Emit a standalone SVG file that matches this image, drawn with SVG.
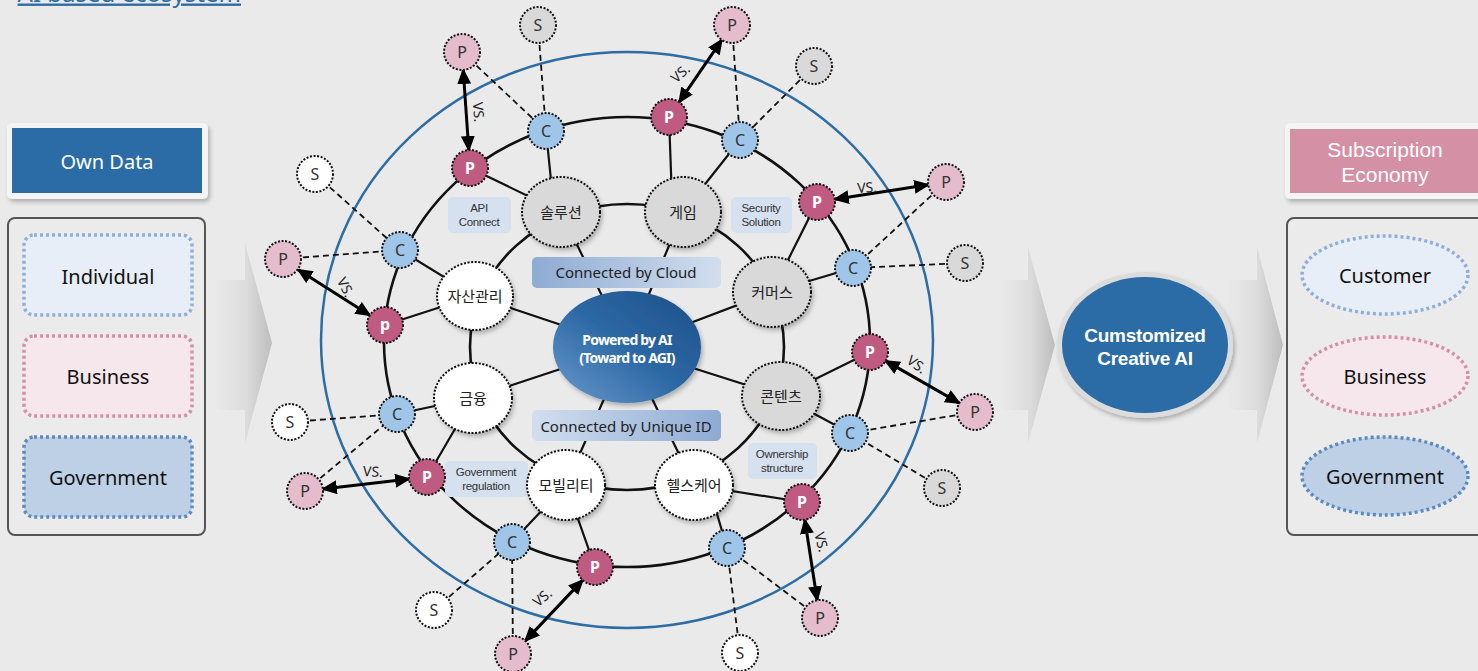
<svg xmlns="http://www.w3.org/2000/svg" width="1478" height="671" viewBox="0 0 1478 671">
<style>
text{font-family:"Noto Sans","Noto Sans CJK KR",sans-serif;text-anchor:middle;dominant-baseline:central}
.nd{stroke:#111;stroke-width:2;stroke-dasharray:2 1.6}
.pd{fill:#bf5a80}.pl{fill:#e4bccb}.cc{fill:#9fc5e8}.sg{fill:#d9d9d9}.sw{fill:#fff}
.t16{font-size:16px;fill:#333}
.tw{font-size:16px;fill:#fff;font-weight:bold}
.cat{font-size:15px;fill:#222}
.ring{fill:none;stroke:#111;stroke-width:2.6}
.ln{stroke:#111;stroke-width:2.2}
.dash{stroke:#111;stroke-width:1.8;stroke-dasharray:6 4}
.arr{stroke:#000;stroke-width:3;marker-start:url(#ah);marker-end:url(#ah)}
.vs{font-size:14px;fill:#222}
.tag{fill:#d5e1ef}
text.tagt{font-family:"Liberation Sans",sans-serif;font-size:11.5px;fill:#333;letter-spacing:-0.3px}
text.lib{font-family:"Liberation Sans",sans-serif}
.lbl{font-size:20px;fill:#111}
</style>
<defs>
<marker id="ah" markerUnits="userSpaceOnUse" markerWidth="16" markerHeight="14" viewBox="0 0 16 14" refX="14" refY="7" orient="auto-start-reverse"><path d="M0,0 L16,7 L0,14 z" fill="#000"/></marker>
<linearGradient id="chev" x1="0" y1="0" x2="1" y2="0"><stop offset="0" stop-color="#eaeaea"/><stop offset="0.55" stop-color="#dcdcdc"/><stop offset="1" stop-color="#bdbdbd"/></linearGradient>
<linearGradient id="core" x1="0" y1="1" x2="1" y2="0"><stop offset="0" stop-color="#6a9acb"/><stop offset="0.5" stop-color="#2c68a5"/><stop offset="1" stop-color="#1d4f88"/></linearGradient>
<linearGradient id="cloud" x1="0" y1="0" x2="1" y2="0"><stop offset="0" stop-color="#8eabd3"/><stop offset="1" stop-color="#d2deee"/></linearGradient>
<linearGradient id="uid" x1="0" y1="0" x2="1" y2="0"><stop offset="0" stop-color="#d2deee"/><stop offset="1" stop-color="#8eabd3"/></linearGradient>
<filter id="sh" x="-20%" y="-20%" width="150%" height="150%"><feDropShadow dx="2" dy="3" stdDeviation="2" flood-color="#000" flood-opacity="0.25"/></filter>
</defs>
<rect width="1478" height="671" fill="#eaeaea"/>

<!-- cut-off title link -->
<text x="241" y="1.5" style="text-anchor:end;dominant-baseline:auto;font-size:24px;fill:#2e6da4;text-decoration:underline">AI based ecosystem</text>

<!-- chevrons -->
<g id="chevrons">
<path d="M215,280 L245,280 L245,243 L272,343 L245,443 L245,410 L215,410 Z" fill="url(#chev)"/>
<path d="M1000,280 L1028,280 L1028,247 L1055,345 L1028,443 L1028,410 L1000,410 Z" fill="url(#chev)"/>
<path d="M1227,280 L1257,280 L1257,247 L1283,345 L1257,443 L1257,410 L1227,410 Z" fill="url(#chev)"/>
</g>

<!-- left panel -->
<g id="own-data">
<rect x="7" y="123" width="201" height="76" rx="5" fill="#f4f4f4" filter="url(#sh)"/>
<rect x="12" y="128" width="190" height="65" fill="#2b6ca6"/>
<text x="107" y="161" style="font-size:20px;fill:#fff">Own Data</text>
</g>
<g id="left-panel">
<rect x="8" y="218" width="197" height="317" rx="7" fill="#ebebeb" stroke="#555" stroke-width="2"/>
</g>
<g id="l-individual"><rect x="24" y="235" width="168" height="80" rx="10" fill="#e7eef7" stroke="#8eaedb" stroke-width="3.5" stroke-dasharray="3 3"/><text class="lbl" x="108" y="276">Individual</text></g>
<g id="l-business"><rect x="24" y="336" width="168" height="80" rx="10" fill="#f5e7ec" stroke="#d68fa8" stroke-width="3.5" stroke-dasharray="3 3"/><text class="lbl" x="108" y="376">Business</text></g>
<g id="l-government"><rect x="24" y="437" width="168" height="80" rx="10" fill="#bdd0e6" stroke="#5b8bc0" stroke-width="3.5" stroke-dasharray="3 3"/><text class="lbl" x="108" y="477">Government</text></g>

<!-- right side -->
<g id="custom-ai">
<ellipse cx="1145" cy="345" rx="88" ry="73" fill="#dcdcdc" filter="url(#sh)"/>
<ellipse cx="1145" cy="345" rx="83" ry="68" fill="#2b6ca6"/>
<text class="lib" x="1145" y="335" style="font-size:19px;fill:#fff;font-weight:bold;letter-spacing:-0.3px">Cumstomized</text>
<text class="lib" x="1145" y="358" style="font-size:19px;fill:#fff;font-weight:bold;letter-spacing:-0.3px">Creative AI</text>
</g>
<g id="subscription">
<rect x="1285" y="123" width="200" height="76" rx="5" fill="#f4f4f4" filter="url(#sh)"/>
<rect x="1290" y="129" width="190" height="64" fill="#d490a5"/>
<text class="lib" x="1385" y="149" style="font-size:21px;fill:#fff">Subscription</text>
<text class="lib" x="1385" y="174" style="font-size:21px;fill:#fff">Economy</text>
</g>
<g id="right-panel">
<rect x="1287" y="218" width="200" height="317" rx="7" fill="#ebebeb" stroke="#555" stroke-width="2"/>
</g>
<g id="r-customer"><ellipse cx="1385" cy="275" rx="83" ry="39" fill="#e7eef7" stroke="#8eaedb" stroke-width="3.5" stroke-dasharray="3 3"/><text class="lbl" x="1385" y="275">Customer</text></g>
<g id="r-business"><ellipse cx="1385" cy="376" rx="83" ry="39" fill="#f5e7ec" stroke="#d68fa8" stroke-width="3.5" stroke-dasharray="3 3"/><text class="lbl" x="1385" y="376">Business</text></g>
<g id="r-government"><ellipse cx="1385" cy="476" rx="83" ry="39" fill="#bdd0e6" stroke="#5b8bc0" stroke-width="3.5" stroke-dasharray="3 3"/><text class="lbl" x="1385" y="476">Government</text></g>

<!-- big boundary -->
<ellipse id="boundary" cx="627" cy="340" rx="306" ry="288" fill="none" stroke="#2e6da4" stroke-width="2.5"/>

<!-- connectors -->
<g id="connectors">
<ellipse class="ring" cx="627" cy="342" rx="243" ry="225"/>
<ellipse class="ring" cx="627" cy="347" rx="157" ry="143"/>
<!-- spokes -->
<line class="ln" x1="561" y1="212" x2="627" y2="347"/>
<line class="ln" x1="683" y1="212" x2="627" y2="347"/>
<line class="ln" x1="772" y1="292" x2="627" y2="347"/>
<line class="ln" x1="781" y1="396" x2="627" y2="347"/>
<line class="ln" x1="694" y1="485" x2="627" y2="347"/>
<line class="ln" x1="566" y1="485" x2="627" y2="347"/>
<line class="ln" x1="473" y1="398" x2="627" y2="347"/>
<line class="ln" x1="475" y1="296" x2="627" y2="347"/>
<!-- outer to category -->
<line class="ln" x1="470" y1="168" x2="561" y2="212"/>
<line class="ln" x1="546" y1="131" x2="553" y2="200"/>
<line class="ln" x1="669" y1="117" x2="672" y2="200"/>
<line class="ln" x1="740" y1="140" x2="683" y2="212"/>
<line class="ln" x1="817" y1="202" x2="772" y2="292"/>
<line class="ln" x1="853" y1="268" x2="772" y2="292"/>
<line class="ln" x1="870" y1="352" x2="781" y2="396"/>
<line class="ln" x1="850" y1="433" x2="781" y2="396"/>
<line class="ln" x1="802" y1="502" x2="694" y2="485"/>
<line class="ln" x1="727" y1="548" x2="710" y2="490"/>
<line class="ln" x1="595" y1="567" x2="566" y2="485"/>
<line class="ln" x1="512" y1="542" x2="566" y2="485"/>
<line class="ln" x1="427" y1="477" x2="473" y2="398"/>
<line class="ln" x1="397" y1="414" x2="473" y2="398"/>
<line class="ln" x1="385" y1="325" x2="475" y2="296"/>
<line class="ln" x1="400" y1="250" x2="475" y2="296"/>
<!-- dashed -->
<line class="dash" x1="538" y1="25" x2="546" y2="131"/>
<line class="dash" x1="462" y1="52" x2="546" y2="131"/>
<line class="dash" x1="315" y1="174" x2="400" y2="250"/>
<line class="dash" x1="283" y1="259" x2="400" y2="250"/>
<line class="dash" x1="732" y1="25" x2="740" y2="140"/>
<line class="dash" x1="814" y1="66" x2="740" y2="140"/>
<line class="dash" x1="946" y1="182" x2="853" y2="268"/>
<line class="dash" x1="965" y1="263" x2="853" y2="268"/>
<line class="dash" x1="975" y1="412" x2="850" y2="433"/>
<line class="dash" x1="942" y1="488" x2="850" y2="433"/>
<line class="dash" x1="820" y1="618" x2="727" y2="548"/>
<line class="dash" x1="740" y1="653" x2="727" y2="548"/>
<line class="dash" x1="513" y1="654" x2="512" y2="542"/>
<line class="dash" x1="434" y1="610" x2="512" y2="542"/>
<line class="dash" x1="305" y1="491" x2="397" y2="414"/>
<line class="dash" x1="290" y1="422" x2="397" y2="414"/>
<!-- vs arrows -->
<line class="arr" x1="463.2" y1="70" x2="468.8" y2="150"/>
<line class="arr" x1="298.2" y1="269.7" x2="369.8" y2="315.3"/>
<line class="arr" x1="721.8" y1="39.9" x2="679.2" y2="102.1"/>
<line class="arr" x1="834.8" y1="199.2" x2="928.2" y2="184.8"/>
<line class="arr" x1="885.6" y1="360.9" x2="959.4" y2="403.1"/>
<line class="arr" x1="804.8" y1="519.8" x2="817.2" y2="600.2"/>
<line class="arr" x1="582.7" y1="580.1" x2="525.3" y2="640.9"/>
<line class="arr" x1="409.1" y1="479.1" x2="322.9" y2="488.9"/>
<text class="vs" transform="translate(479,112) rotate(86)">VS.</text>
<text class="vs" transform="translate(346,287) rotate(62)">VS.</text>
<text class="vs" transform="translate(680,73) rotate(-42)">VS.</text>
<text class="vs" transform="translate(867,187) rotate(-3)">VS.</text>
<text class="vs" transform="translate(917,364) rotate(36)">VS.</text>
<text class="vs" transform="translate(822,542) rotate(76)">VS.</text>
<text class="vs" transform="translate(542,597) rotate(-40)">VS.</text>
<text class="vs" transform="translate(373,471) rotate(3)">VS.</text>
</g>

<!-- labels -->
<g id="tag-cloud"><rect x="532" y="257" width="189" height="31" rx="5" fill="url(#cloud)"/><text x="626" y="272" style="font-size:15px;fill:#222">Connected by Cloud</text></g>
<g id="tag-uid"><rect x="532" y="410" width="189" height="31" rx="5" fill="url(#uid)"/><text x="626" y="426" style="font-size:15px;fill:#222">Connected by Unique ID</text></g>
<g id="tag-api"><rect class="tag" x="448" y="197" width="63" height="36" rx="5"/><text class="tagt" x="479" y="208">API</text><text class="tagt" x="479" y="222">Connect</text></g>
<g id="tag-security"><rect class="tag" x="731" y="197" width="61" height="36" rx="5"/><text class="tagt" x="761" y="208">Security</text><text class="tagt" x="761" y="222">Solution</text></g>
<g id="tag-gov"><rect class="tag" x="445" y="461" width="83" height="36" rx="5"/><text class="tagt" x="486" y="472">Government</text><text class="tagt" x="486" y="486">regulation</text></g>
<g id="tag-own"><rect class="tag" x="748" y="443" width="69" height="36" rx="5"/><text class="tagt" x="782" y="454">Ownership</text><text class="tagt" x="782" y="468">structure</text></g>

<!-- core -->
<g id="core">
<ellipse cx="627" cy="347" rx="74" ry="56" fill="url(#core)" filter="url(#sh)"/>
<text x="627" y="339" style="font-size:14px;fill:#fff;font-weight:bold;letter-spacing:-0.8px">Powered by AI</text>
<text x="627" y="357" style="font-size:14px;fill:#fff;font-weight:bold;letter-spacing:-0.8px">(Toward to AGI)</text>
</g>

<!-- category nodes -->
<g id="cat-solution"><ellipse class="sg nd" cx="561" cy="212" rx="39" ry="35" filter="url(#sh)"/><text class="cat" x="561" y="212">솔루션</text></g>
<g id="cat-game"><ellipse class="sg nd" cx="683" cy="212" rx="38" ry="35" filter="url(#sh)"/><text class="cat" x="683" y="212">게임</text></g>
<g id="cat-commerce"><ellipse class="sg nd" cx="772" cy="292" rx="39" ry="35" filter="url(#sh)"/><text class="cat" x="772" y="292">커머스</text></g>
<g id="cat-content"><ellipse class="sg nd" cx="781" cy="396" rx="39" ry="34" filter="url(#sh)"/><text class="cat" x="781" y="396">콘텐츠</text></g>
<g id="cat-health"><ellipse class="sw nd" cx="694" cy="485" rx="39" ry="35" filter="url(#sh)"/><text class="cat" x="694" y="485">헬스케어</text></g>
<g id="cat-mobility"><ellipse class="sw nd" cx="566" cy="485" rx="39" ry="35" filter="url(#sh)"/><text class="cat" x="566" y="485">모빌리티</text></g>
<g id="cat-finance"><ellipse class="sw nd" cx="473" cy="398" rx="39" ry="35" filter="url(#sh)"/><text class="cat" x="473" y="398">금융</text></g>
<g id="cat-asset"><ellipse class="sw nd" cx="475" cy="296" rx="38" ry="34" filter="url(#sh)"/><text class="cat" x="475" y="296">자산관리</text></g>

<!-- ring nodes -->
<g id="p1"><circle class="pd nd" cx="470" cy="168" r="18"/><text class="tw" x="470" y="168">P</text></g>
<g id="c1"><circle class="cc nd" cx="546" cy="131" r="18"/><text class="t16" x="546" y="131">C</text></g>
<g id="p2"><circle class="pd nd" cx="669" cy="117" r="18"/><text class="tw" x="669" y="117">P</text></g>
<g id="c2"><circle class="cc nd" cx="740" cy="140" r="18"/><text class="t16" x="740" y="140">C</text></g>
<g id="p3"><circle class="pd nd" cx="817" cy="202" r="18"/><text class="tw" x="817" y="202">P</text></g>
<g id="c3"><circle class="cc nd" cx="853" cy="268" r="18"/><text class="t16" x="853" y="268">C</text></g>
<g id="p4"><circle class="pd nd" cx="870" cy="352" r="18"/><text class="tw" x="870" y="352">P</text></g>
<g id="c4"><circle class="cc nd" cx="850" cy="433" r="18"/><text class="t16" x="850" y="433">C</text></g>
<g id="p5"><circle class="pd nd" cx="802" cy="502" r="18"/><text class="tw" x="802" y="502">P</text></g>
<g id="c5"><circle class="cc nd" cx="727" cy="548" r="18"/><text class="t16" x="727" y="548">C</text></g>
<g id="p6"><circle class="pd nd" cx="595" cy="567" r="18"/><text class="tw" x="595" y="567">P</text></g>
<g id="c6"><circle class="cc nd" cx="512" cy="542" r="18"/><text class="t16" x="512" y="542">C</text></g>
<g id="p7"><circle class="pd nd" cx="427" cy="477" r="18"/><text class="tw" x="427" y="477">P</text></g>
<g id="c7"><circle class="cc nd" cx="397" cy="414" r="18"/><text class="t16" x="397" y="414">C</text></g>
<g id="p8"><circle class="pd nd" cx="385" cy="325" r="18"/><text class="tw" x="385" y="324">p</text></g>
<g id="c8"><circle class="cc nd" cx="400" cy="250" r="18"/><text class="t16" x="400" y="250">C</text></g>

<!-- external nodes -->
<g id="s1"><circle class="sg nd" cx="538" cy="25" r="18"/><text class="t16" x="538" y="25">S</text></g>
<g id="q1"><circle class="pl nd" cx="462" cy="52" r="18"/><text class="t16" x="462" y="52">P</text></g>
<g id="s2"><circle class="sw nd" cx="315" cy="174" r="18"/><text class="t16" x="315" y="174">S</text></g>
<g id="q2"><circle class="pl nd" cx="283" cy="259" r="18"/><text class="t16" x="283" y="259">P</text></g>
<g id="q3"><circle class="pl nd" cx="732" cy="25" r="18"/><text class="t16" x="732" y="25">P</text></g>
<g id="s3"><circle class="sg nd" cx="814" cy="66" r="18"/><text class="t16" x="814" y="66">S</text></g>
<g id="q4"><circle class="pl nd" cx="946" cy="182" r="18"/><text class="t16" x="946" y="182">P</text></g>
<g id="s4"><circle class="sg nd" cx="965" cy="263" r="18"/><text class="t16" x="965" y="263">S</text></g>
<g id="q5"><circle class="pl nd" cx="975" cy="412" r="18"/><text class="t16" x="975" y="412">P</text></g>
<g id="s5"><circle class="sg nd" cx="942" cy="488" r="18"/><text class="t16" x="942" y="488">S</text></g>
<g id="q6"><circle class="pl nd" cx="820" cy="618" r="18"/><text class="t16" x="820" y="618">P</text></g>
<g id="s6"><circle class="sw nd" cx="740" cy="653" r="18"/><text class="t16" x="740" y="653">S</text></g>
<g id="q7"><circle class="pl nd" cx="513" cy="654" r="18"/><text class="t16" x="513" y="654">P</text></g>
<g id="s7"><circle class="sw nd" cx="434" cy="610" r="18"/><text class="t16" x="434" y="610">S</text></g>
<g id="q8"><circle class="pl nd" cx="305" cy="491" r="18"/><text class="t16" x="305" y="491">P</text></g>
<g id="s8"><circle class="sw nd" cx="290" cy="422" r="18"/><text class="t16" x="290" y="422">S</text></g>
</svg>
